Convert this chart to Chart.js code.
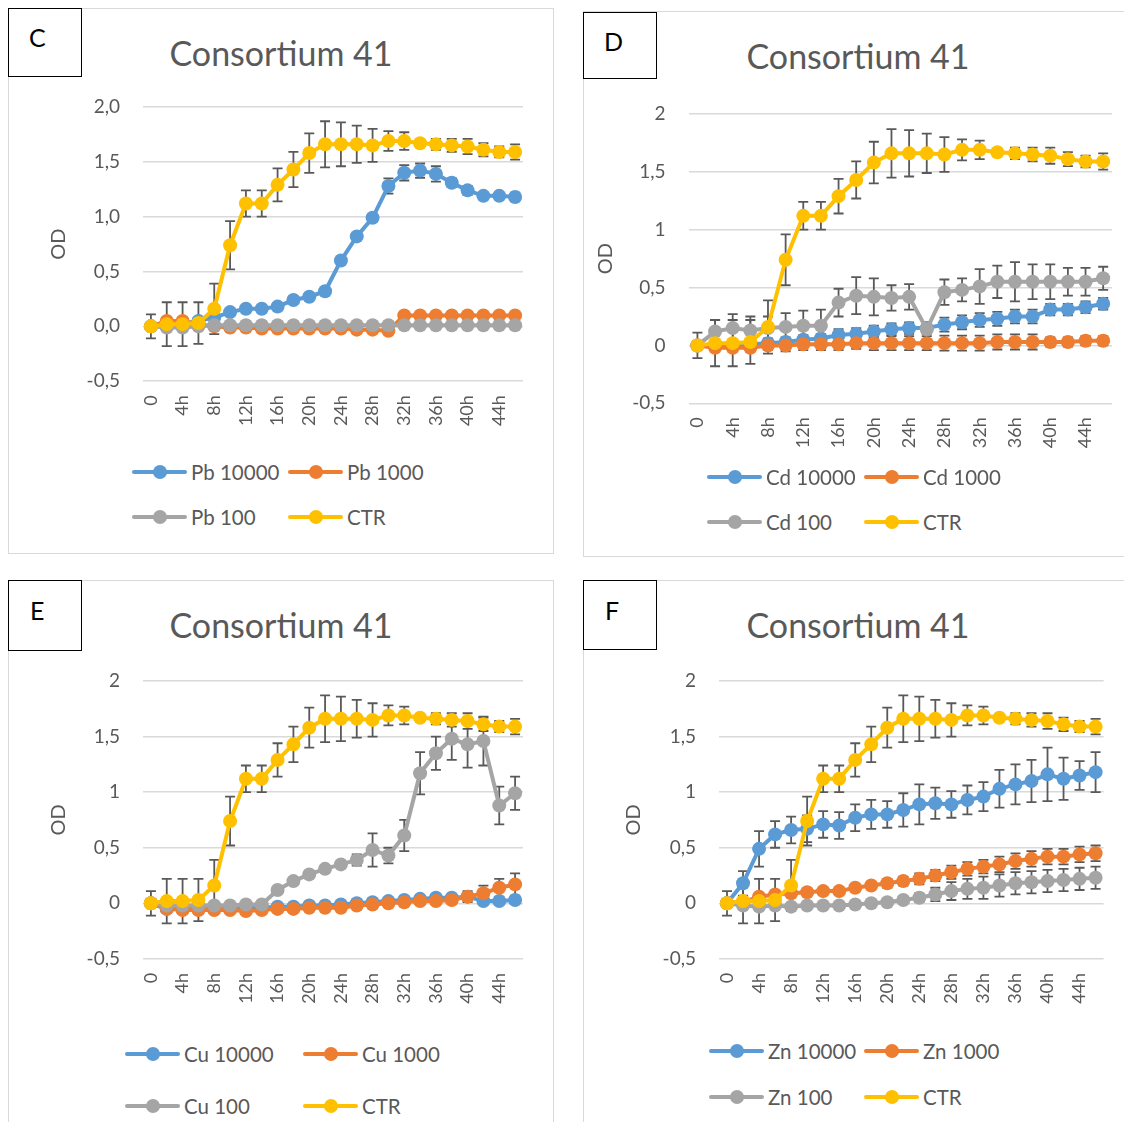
<!DOCTYPE html>
<html>
<head>
<meta charset="utf-8">
<script src="https://cdn.jsdelivr.net/npm/chart.js@4.4.1/dist/chart.umd.min.js"></script>
<style>
  body { margin:0; width:1124px; height:1122px; background:#fff; position:relative; overflow:hidden;
         font-family: Lato, "Open Sans", "DejaVu Sans", sans-serif; }
  .panel { position:absolute; border:1px solid #d9d9d9; box-sizing:border-box; background:#fff; }
  .tag { position:absolute; border:1.5px solid #000; box-sizing:border-box; background:#fff; color:#000;
         font-size:25px; line-height:25px; }
  .tag span { position:absolute; }
  .title { position:absolute; font-size:34px; line-height:38px; color:#595959; white-space:nowrap;
           transform:translate(-50%,-50%); }
  canvas { position:absolute; }
  .lg { position:absolute; display:flex; align-items:center; height:24px; transform:translateY(-50%); }
  .ln { display:inline-block; width:55px; height:4px; position:relative; border-radius:2px; }
  .ln i { position:absolute; left:50%; top:50%; width:14px; height:14px; margin:-7px 0 0 -7px; border-radius:50%; }
  .tx { margin-left:4px; font-size:20.5px; color:#595959; white-space:nowrap; }
</style>
</head>
<body>
<script>
// Sampling times (every 2 h, 0 to 46 h)
const hours = ['0','2h','4h','6h','8h','10h','12h','14h','16h','18h','20h','22h',
               '24h','26h','28h','30h','32h','34h','36h','38h','40h','42h','44h','46h'];

// Y tick labels (decimal comma)
const yTicksOneDecimal = ['-0,5','0,0','0,5','1,0','1,5','2,0'];
const yTicksPlain      = ['-0,5','0','0,5','1','1,5','2'];

const chartTitle = 'Consortium 41';
const axisTitle = 'OD';
const panelTags = ['C','D','E','F'];

// Control (no metal) – same culture in all four plots
const ctr    = [0.00,0.02,0.02,0.03,0.16,0.74,1.12,1.12,1.29,1.43,1.58,1.66,1.66,1.66,1.65,1.69,1.69,1.67,1.66,1.65,1.64,1.61,1.59,1.59];
const ctrErr = [0.11,0.20,0.20,0.19,0.23,0.22,0.12,0.12,0.15,0.16,0.18,0.21,0.20,0.17,0.15,0.09,0.08,0.02,0.05,0.06,0.07,0.06,0.05,0.07];

// Pb
const pbNames = ['Pb 10000','Pb 1000','Pb 100','CTR'];
const pb10000    = [0.00,0.02,0.02,0.05,0.08,0.13,0.16,0.16,0.18,0.24,0.27,0.32,0.60,0.82,0.99,1.28,1.40,1.42,1.39,1.31,1.24,1.19,1.19,1.18];
const pb10000Err = [0.02,0.02,0.02,0.02,0.02,0.02,0.02,0.02,0.02,0.02,0.02,0.02,0.02,0.02,0.02,0.07,0.07,0.065,0.07,0.04,0.04,0.03,0.03,0.04];
const pb1000     = [0.00,0.05,0.05,0.02,0.00,-0.01,-0.01,-0.02,-0.02,-0.02,-0.02,-0.02,-0.02,-0.03,-0.03,-0.04,0.10,0.10,0.10,0.10,0.10,0.10,0.10,0.10];
const pb1000Err  = [0.02,0.02,0.02,0.02,0.02,0.02,0.02,0.02,0.02,0.02,0.02,0.02,0.02,0.02,0.02,0.02,0.02,0.02,0.02,0.02,0.02,0.02,0.02,0.02];
const pb100      = [0.00,-0.01,-0.01,0.00,0.01,0.01,0.01,0.01,0.01,0.01,0.01,0.01,0.01,0.01,0.01,0.01,0.01,0.01,0.01,0.01,0.01,0.01,0.01,0.01];
const pb100Err   = [0.02,0.02,0.02,0.02,0.02,0.02,0.02,0.02,0.02,0.02,0.02,0.02,0.02,0.02,0.02,0.02,0.02,0.02,0.02,0.02,0.02,0.02,0.02,0.02];

// Cd
const cdNames = ['Cd 10000','Cd 1000','Cd 100','CTR'];
const cd10000    = [0.00,0.00,0.00,0.01,0.02,0.03,0.05,0.06,0.09,0.10,0.12,0.14,0.15,0.15,0.18,0.20,0.22,0.23,0.25,0.25,0.31,0.31,0.33,0.36];
const cd10000Err = [0.03,0.03,0.03,0.03,0.04,0.04,0.04,0.04,0.05,0.05,0.05,0.05,0.05,0.05,0.06,0.06,0.06,0.06,0.06,0.06,0.05,0.05,0.05,0.05];
const cd1000     = [0.00,-0.02,-0.02,-0.02,0.00,0.00,0.01,0.01,0.01,0.02,0.02,0.02,0.02,0.02,0.02,0.02,0.02,0.03,0.03,0.03,0.03,0.03,0.04,0.04];
const cd1000Err  = [0.03,0.03,0.03,0.03,0.04,0.05,0.05,0.05,0.05,0.05,0.06,0.06,0.06,0.06,0.065,0.065,0.065,0.065,0.065,0.065,0.04,0.04,0.04,0.04];
const cd100      = [0.00,0.12,0.15,0.13,0.15,0.16,0.17,0.17,0.37,0.43,0.42,0.41,0.42,0.14,0.46,0.48,0.51,0.55,0.55,0.55,0.55,0.55,0.55,0.58];
const cd100Err   = [0.02,0.10,0.12,0.12,0.10,0.12,0.13,0.14,0.12,0.16,0.16,0.11,0.11,0.03,0.11,0.10,0.15,0.14,0.17,0.15,0.15,0.12,0.12,0.10];

// Cu
const cuNames = ['Cu 10000','Cu 1000','Cu 100','CTR'];
const cu10000    = [0.00,-0.05,-0.05,-0.05,-0.04,-0.04,-0.04,-0.04,-0.03,-0.03,-0.02,-0.02,-0.01,0.00,0.01,0.02,0.03,0.04,0.05,0.05,0.06,0.02,0.02,0.03];
const cu10000Err = [0.02,0.02,0.02,0.02,0.02,0.02,0.02,0.02,0.02,0.02,0.02,0.02,0.02,0.02,0.02,0.02,0.02,0.02,0.02,0.02,0.02,0.02,0.02,0.02];
const cu1000     = [0.00,-0.05,-0.06,-0.06,-0.06,-0.06,-0.07,-0.06,-0.05,-0.05,-0.04,-0.04,-0.04,-0.02,-0.01,0.00,0.01,0.02,0.02,0.03,0.06,0.09,0.14,0.17];
const cu1000Err  = [0.02,0.02,0.02,0.02,0.02,0.02,0.02,0.02,0.02,0.02,0.02,0.02,0.02,0.02,0.02,0.02,0.02,0.02,0.02,0.03,0.05,0.07,0.08,0.10];
const cu100      = [0.00,-0.02,-0.02,-0.02,-0.02,-0.02,-0.01,-0.01,0.12,0.20,0.26,0.31,0.35,0.39,0.48,0.43,0.61,1.17,1.35,1.48,1.43,1.46,0.88,0.99];
const cu100Err   = [0.02,0.02,0.02,0.02,0.02,0.02,0.02,0.02,0.02,0.02,0.02,0.02,0.02,0.05,0.15,0.07,0.14,0.19,0.15,0.19,0.21,0.22,0.17,0.15];

// Zn
const znNames = ['Zn 10000','Zn 1000','Zn 100','CTR'];
const zn10000    = [0.00,0.18,0.49,0.62,0.66,0.67,0.71,0.70,0.77,0.80,0.80,0.84,0.89,0.90,0.89,0.93,0.96,1.03,1.07,1.10,1.16,1.12,1.15,1.18];
const zn10000Err = [0.02,0.11,0.16,0.12,0.12,0.12,0.12,0.12,0.12,0.13,0.12,0.15,0.18,0.14,0.12,0.13,0.13,0.17,0.18,0.19,0.24,0.19,0.13,0.18];
const zn1000     = [0.00,0.01,0.06,0.08,0.09,0.10,0.11,0.11,0.14,0.16,0.18,0.20,0.22,0.25,0.28,0.31,0.33,0.35,0.38,0.40,0.42,0.42,0.44,0.45];
const zn1000Err  = [0.02,0.02,0.03,0.03,0.03,0.03,0.03,0.03,0.03,0.03,0.04,0.04,0.05,0.05,0.06,0.06,0.06,0.07,0.07,0.07,0.07,0.07,0.07,0.07];
const zn100      = [0.00,-0.02,-0.03,-0.02,-0.03,-0.02,-0.02,-0.02,-0.01,0.00,0.01,0.03,0.05,0.08,0.11,0.13,0.14,0.16,0.18,0.19,0.20,0.21,0.22,0.23];
const zn100Err   = [0.02,0.02,0.02,0.02,0.02,0.02,0.02,0.02,0.02,0.02,0.02,0.03,0.04,0.06,0.08,0.09,0.10,0.10,0.10,0.10,0.10,0.10,0.10,0.10];

// Series colours: 10000, 1000, 100, control
const seriesColors = ['#5B9BD5','#ED7D31','#A5A5A5','#FFC000'];

// Page layout of the four plots (pixels)
const panels = [
  { tag:panelTags[0], names:pbNames, series:[pb10000,pb1000,pb100,ctr], errs:[pb10000Err,pb1000Err,pb100Err,ctrErr], yTicks:yTicksOneDecimal,
    box:{x:8,y:8,w:546,h:546}, tagBox:{x:8,y:8,w:74,h:69}, tagText:{x:20,y:22},
    title:{x:281,y:52.5}, plot:{l:143,t:106.5,r:523,b:380.7}, odX:59, rows:[472,517], cols:[132,288] },
  { tag:panelTags[1], names:cdNames, series:[cd10000,cd1000,cd100,ctr], errs:[cd10000Err,cd1000Err,cd100Err,ctrErr], yTicks:yTicksPlain,
    box:{x:583,y:11,w:560,h:546}, tagBox:{x:583,y:12,w:74,h:67}, tagText:{x:20,y:22},
    title:{x:858,y:56}, plot:{l:688.6,t:114.3,r:1112,b:403.6}, odX:605.7, rows:[477,522], cols:[707,864] },
  { tag:panelTags[2], names:cuNames, series:[cu10000,cu1000,cu100,ctr], errs:[cu10000Err,cu1000Err,cu100Err,ctrErr], yTicks:yTicksPlain,
    box:{x:8,y:580,w:546,h:560}, tagBox:{x:8,y:580,w:74,h:71}, tagText:{x:21,y:23},
    title:{x:281,y:625}, plot:{l:143,t:680.7,r:523,b:958.6}, odX:59, rows:[1054,1106], cols:[125,303] },
  { tag:panelTags[3], names:znNames, series:[zn10000,zn1000,zn100,ctr], errs:[zn10000Err,zn1000Err,zn100Err,ctrErr], yTicks:yTicksPlain,
    box:{x:583,y:580,w:560,h:560}, tagBox:{x:583,y:580,w:74,h:70}, tagText:{x:21,y:23},
    title:{x:858,y:625}, plot:{l:719,t:680.7,r:1103.6,b:958.6}, odX:634, rows:[1051,1097], cols:[709,864] }
];

// Vertical ± error bars drawn behind the lines
const errorBars = {
  id: 'errorBars',
  beforeDatasetsDraw(chart) {
    const { ctx, scales: { x, y } } = chart;
    ctx.save();
    ctx.strokeStyle = '#595959';
    ctx.lineWidth = 1.8;
    chart.data.datasets.forEach(ds => {
      if (!ds.errors) return;
      ds.data.forEach((v, i) => {
        const e = ds.errors[i];
        if (!e) return;
        const px = x.getPixelForValue(i);
        const top = y.getPixelForValue(v + e);
        const bot = y.getPixelForValue(v - e);
        ctx.beginPath();
        ctx.moveTo(px, top); ctx.lineTo(px, bot);
        ctx.moveTo(px - 5, top); ctx.lineTo(px + 5, top);
        ctx.moveTo(px - 5, bot); ctx.lineTo(px + 5, bot);
        ctx.stroke();
      });
    });
    ctx.restore();
  }
};

const FONT = 'Lato, "Open Sans", sans-serif';
const TEXT = '#595959';

function el(tag, cls, style, text) {
  const e = document.createElement(tag);
  if (cls) e.className = cls;
  if (style) Object.assign(e.style, style);
  if (text !== undefined) e.textContent = text;
  document.body.appendChild(e);
  return e;
}

panels.forEach(p => {
  el('div', 'panel', { left:p.box.x+'px', top:p.box.y+'px', width:p.box.w+'px', height:p.box.h+'px' });

  const tag = el('div', 'tag', { left:p.tagBox.x+'px', top:p.tagBox.y+'px', width:p.tagBox.w+'px', height:p.tagBox.h+'px' });
  const ts = document.createElement('span');
  ts.textContent = p.tag;
  ts.style.left = p.tagText.x + 'px';
  ts.style.top = (p.tagText.y - 6) + 'px';
  tag.appendChild(ts);

  el('div', 'title', { left:p.title.x+'px', top:p.title.y+'px' }, chartTitle);

  // canvas around the plot area, axes included
  const padTop = 22, padRight = 20, xAxisH = 60, padBottom = 10;
  const cx = p.box.x + 1;
  const cy = p.plot.t - padTop;
  const cw = Math.round(p.plot.r + padRight - cx);
  const ch = Math.round(p.plot.b - cy + xAxisH + padBottom);
  const yAxisW = p.plot.l - cx;
  const canvas = el('canvas', null, { left:cx+'px', top:cy+'px', width:cw+'px', height:ch+'px' });
  canvas.width = cw; canvas.height = ch;

  const order = [4, 3, 2, 1];
  const datasets = p.series.map((d, k) => ({
    label: p.names[k],
    data: d,
    errors: p.errs[k],
    borderColor: seriesColors[k],
    backgroundColor: seriesColors[k],
    pointBackgroundColor: seriesColors[k],
    pointBorderWidth: 0,
    pointRadius: 7,
    borderWidth: 4,
    tension: 0,
    order: order[k]
  }));

  new Chart(canvas, {
    type: 'line',
    data: { labels: hours, datasets },
    plugins: [errorBars],
    options: {
      responsive: false,
      animation: false,
      events: [],
      layout: { padding: { top: padTop, right: cx + cw - p.plot.r, bottom: ch - (p.plot.b - cy) - xAxisH, left: 0 } },
      plugins: { legend: { display: false }, tooltip: { enabled: false }, title: { display: false } },
      scales: {
        x: {
          type: 'category',
          offset: true,
          grid: { display: false, drawTicks: false },
          border: { display: false },
          ticks: {
            autoSkip: false, maxRotation: 90, minRotation: 90, padding: 14,
            color: TEXT, font: { family: FONT, size: 18 },
            callback: (v, i) => (i % 2 === 0 ? hours[i] : '')
          },
          afterFit: s => { s.height = xAxisH; s.paddingLeft = 0; s.paddingRight = 0; }
        },
        y: {
          min: -0.5, max: 2,
          grid: { color: '#d9d9d9', lineWidth: 1.5, drawTicks: false },
          border: { display: false },
          ticks: {
            stepSize: 0.5, padding: 23, color: TEXT, font: { family: FONT, size: 19 },
            callback: v => p.yTicks[Math.round((v + 0.5) / 0.5)]
          },
          title: {
            display: true, text: axisTitle, color: TEXT,
            font: { family: FONT, size: 20 },
            padding: { top: p.odX - cx - 12, bottom: 0 }
          },
          afterFit: s => { s.width = yAxisW; s.paddingTop = 0; s.paddingBottom = 0; }
        }
      }
    }
  });

  // legend: two rows of two entries
  p.names.forEach((name, k) => {
    const lg = el('div', 'lg', { left: p.cols[k % 2] + 'px', top: p.rows[Math.floor(k / 2)] + 'px' });
    const ln = document.createElement('span');
    ln.className = 'ln';
    ln.style.background = seriesColors[k];
    const dot = document.createElement('i');
    dot.style.background = seriesColors[k];
    ln.appendChild(dot);
    const tx = document.createElement('span');
    tx.className = 'tx';
    tx.textContent = name;
    lg.appendChild(ln); lg.appendChild(tx);
  });
});
</script>
</body>
</html>
